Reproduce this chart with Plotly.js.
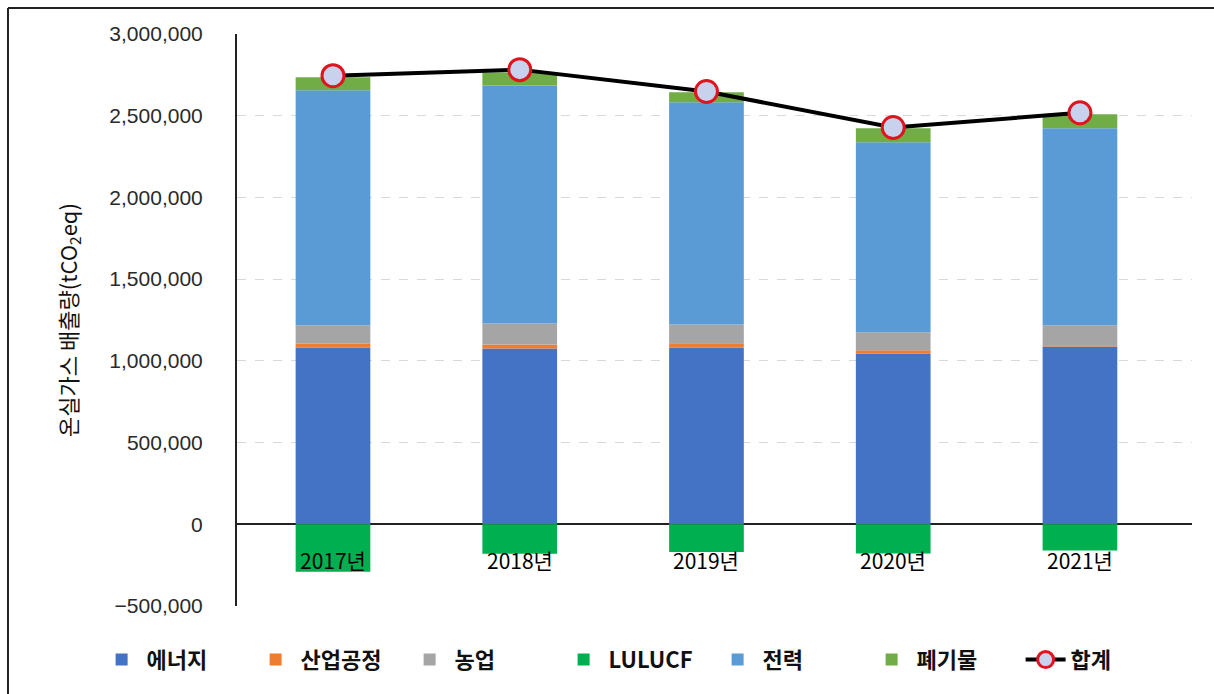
<!DOCTYPE html>
<html>
<head>
<meta charset="utf-8">
<script src="https://cdn.plot.ly/plotly-3.0.1.min.js"></script>
<style>
  html, body { margin: 0; padding: 0; background: #ffffff; }
  #chart { width: 1214px; height: 694px; }
</style>
</head>
<body>
<div id="chart"></div>
<script>
// ---- data ----
const years = ["2017년", "2018년", "2019년", "2020년", "2021년"];
const energy = [1080000, 1075000, 1080000, 1045000, 1088000];   // 에너지
const industry = [25000, 25000, 28000, 20000, 8000];            // 산업공정
const agriculture = [113000, 128000, 115000, 110000, 122000];   // 농업
const lulucf = [-290000, -180000, -170000, -178000, -160000];    // LULUCF
const power = [1438000, 1457000, 1360000, 1163000, 1205000];    // 전력
const waste = [80000, 79000, 61000, 85000, 86000];              // 폐기물
const total = [2745000, 2782000, 2648000, 2428000, 2518000];    // 합계
const yTicks = [-500000, 0, 500000, 1000000, 1500000, 2000000, 2500000, 3000000];

const FONT = "Liberation Sans, Arial, 'Noto Sans CJK KR', sans-serif";
const KFONT = "'Noto Sans CJK KR', 'Liberation Sans', sans-serif";

function barTrace(name, values, color) {
  return {
    type: "bar", name: name, x: years, y: values,
    marker: { color: color, line: { width: 0 } },
    hoverinfo: "x+y+name"
  };
}

const traces = [
  barTrace("에너지", energy, "#4472C4"),
  barTrace("산업공정", industry, "#ED7D31"),
  barTrace("농업", agriculture, "#A5A5A5"),
  barTrace("LULUCF", lulucf, "#00B050"),
  barTrace("전력", power, "#5B9BD5"),
  barTrace("폐기물", waste, "#70AD47"),
  {
    type: "scatter", mode: "lines+markers", name: "합계",
    x: years, y: total,
    line: { color: "#000000", width: 4 },
    marker: { symbol: "circle", size: 22, color: "#C8D2EC",
              line: { color: "#E0141E", width: 3 } }
  }
];

const annotations = years.map(function (yr) {
  return {
    x: yr, y: 0, xref: "x", yref: "y", text: yr, showarrow: false,
    yanchor: "middle", xanchor: "center", yshift: -36,
    font: { family: KFONT, size: 21, color: "#000000" }
  };
});

const layout = {
  width: 1214, height: 694,
  margin: { l: 237, r: 22, t: 34, b: 88, pad: 0 },
  paper_bgcolor: "#ffffff", plot_bgcolor: "#ffffff",
  barmode: "relative", bargap: 0.6,
  showlegend: true,
  legend: {
    orientation: "h", x: -0.147, xanchor: "left", y: -0.094, yanchor: "middle",
    font: { family: KFONT, size: 22, color: "#111111", weight: "bold" },
    itemwidth: 40, traceorder: "normal", bgcolor: "rgba(0,0,0,0)",
    entrywidth: 99, entrywidthmode: "pixels"
  },
  xaxis: {
    type: "category", range: [-0.514, 4.6],
    showticklabels: false, showgrid: false, zeroline: false,
    showline: false, ticks: ""
  },
  yaxis: {
    range: [-500000, 3000000], tickvals: yTicks,
    tickformat: ",d", ticks: "", ticklabelstandoff: 28,
    tickfont: { family: FONT, size: 21, color: "#2a2a2a" },
    showgrid: true, gridcolor: "#D9D9D9", gridwidth: 1, griddash: "dash",
    zeroline: true, zerolinecolor: "#222222", zerolinewidth: 2,
    showline: true, linecolor: "#222222", linewidth: 2,
    title: { text: "온실가스 배출량(tCO<sub>2</sub>eq)", standoff: 26,
             font: { family: KFONT, size: 22, color: "#111111" } }
  },
  annotations: annotations,
  shapes: [
    { type: "line", xref: "paper", yref: "paper", x0: -0.2398, x1: 1.03, y0: 1.0455, y1: 1.0455,
      line: { color: "#222222", width: 2 } },
    { type: "line", xref: "paper", yref: "paper", x0: -0.2398, x1: -0.2398, y0: 1.0455, y1: -0.16,
      line: { color: "#222222", width: 2 } }
  ]
};

Plotly.newPlot("chart", traces, layout, { displayModeBar: false, staticPlot: true });
</script>
</body>
</html>
